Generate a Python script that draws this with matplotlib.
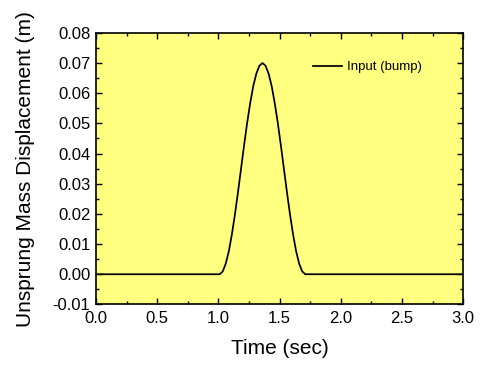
import matplotlib
matplotlib.use("Agg")
import matplotlib.pyplot as plt
from matplotlib.ticker import MultipleLocator

# bump input (time in sec, displacement in m)
time_sec = [0.0, 1.01, 1.035, 1.06, 1.085, 1.11, 1.135, 1.16, 1.185, 1.21, 1.235,
            1.26, 1.285, 1.31, 1.335, 1.36, 1.385, 1.41, 1.435, 1.46, 1.485,
            1.51, 1.535, 1.56, 1.585, 1.61, 1.635, 1.66, 1.685, 1.71, 3.0]
displacement = [0.0, 0.0, 0.0009, 0.0035, 0.0076, 0.0132, 0.0198, 0.0272, 0.035,
                0.0428, 0.0502, 0.0568, 0.0624, 0.0665, 0.0691, 0.070, 0.0691,
                0.0665, 0.0624, 0.0568, 0.0502, 0.0428, 0.035, 0.0272, 0.0198,
                0.0132, 0.0076, 0.0035, 0.0009, 0.0, 0.0]
series_label = "Input (bump)"

plt.rcParams["font.family"] = ["Liberation Sans", "DejaVu Sans"]

fig = plt.figure(figsize=(4.85, 3.65), dpi=100)
ax = fig.add_axes([0.198, 0.166, 0.757, 0.744])
ax.set_facecolor("#FFFF80")

ax.plot(time_sec, displacement, color="black", lw=1.25, label=series_label)

ax.set_xlim(0, 3)
ax.set_ylim(-0.01, 0.08)
ax.xaxis.set_major_locator(MultipleLocator(0.5))
ax.xaxis.set_minor_locator(MultipleLocator(0.25))
ax.yaxis.set_major_locator(MultipleLocator(0.01))
ax.yaxis.set_minor_locator(MultipleLocator(0.005))
ax.xaxis.set_major_formatter(lambda v, p: "%.1f" % v)
ax.yaxis.set_major_formatter(lambda v, p: "%.2f" % v)

ax.tick_params(which="both", direction="in", top=True, right=True, width=1)
ax.tick_params(which="major", length=4, labelsize=12)
ax.tick_params(axis="x", which="major", pad=5)
ax.tick_params(axis="y", which="major", pad=4)
ax.tick_params(which="minor", length=2.5)
for s in ax.spines.values():
    s.set_linewidth(1.2)

ax.set_xlabel("Time (sec)", fontsize=15, labelpad=9)
ax.set_ylabel("Unsprung Mass Displacement (m)", fontsize=15, labelpad=13)

ax.legend(loc="upper right", frameon=False, fontsize=9.5, handlelength=2.2,
          handletextpad=0.4, bbox_to_anchor=(0.92, 0.94))

fig.savefig("out.png", dpi=100)
